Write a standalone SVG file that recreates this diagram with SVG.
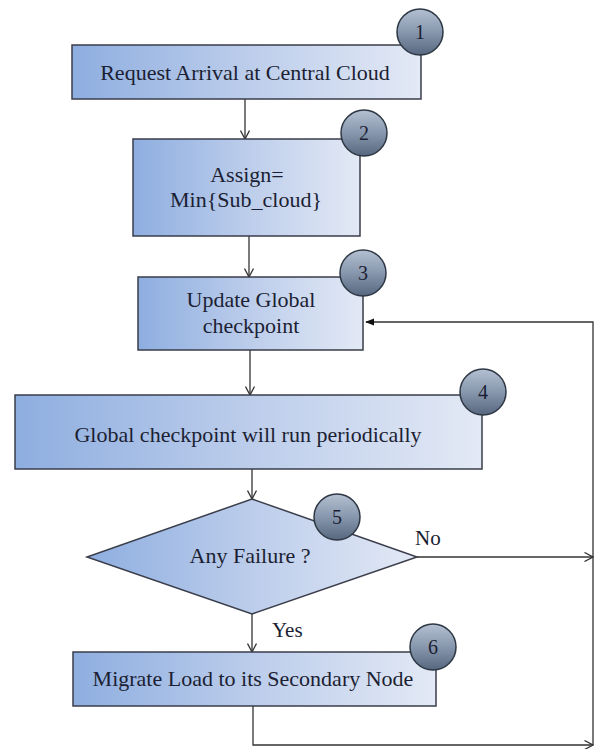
<svg xmlns="http://www.w3.org/2000/svg" width="595" height="749" viewBox="0 0 595 749">
<defs>
<linearGradient id="boxg" x1="0" y1="0" x2="1" y2="0">
<stop offset="0" stop-color="#8eaee0"/>
<stop offset="0.5" stop-color="#bccdeb"/>
<stop offset="1" stop-color="#e3e9f5"/>
</linearGradient>
<linearGradient id="circg" x1="0" y1="0" x2="0" y2="1">
<stop offset="0" stop-color="#b4c0d2"/>
<stop offset="0.5" stop-color="#8797ad"/>
<stop offset="1" stop-color="#56677f"/>
</linearGradient>
<marker id="open" viewBox="0 0 10 10" refX="9.5" refY="5" markerWidth="10" markerHeight="10" markerUnits="userSpaceOnUse" orient="auto">
<path d="M1,0.5 L9.5,5 L1,9.5" fill="none" stroke="#333" stroke-width="1.3"/>
</marker>
<marker id="filled" viewBox="0 0 10 10" refX="9" refY="5" markerWidth="9" markerHeight="9" markerUnits="userSpaceOnUse" orient="auto">
<path d="M0,1 L10,5 L0,9 Z" fill="#111"/>
</marker>
</defs>
<style>
.box{fill:url(#boxg);stroke:#3a3d4a;stroke-width:1.5}
.circ{fill:url(#circg);stroke:#2e3744;stroke-width:1.5}
.t{font-size:22px;fill:#1c1f33;text-anchor:middle}
.n{font-size:20px;fill:#1c1f33;text-anchor:middle}
.lbl{font-size:21px;fill:#1c1f33}
.c{fill:none;stroke:#333;stroke-width:1.3}
</style>
<rect width="595" height="749" fill="#ffffff"/>
<g font-family="'Liberation Serif', 'DejaVu Serif', serif">
<g id="connectors">
<line class="c" x1="245" y1="99" x2="245" y2="139" marker-end="url(#open)"/>
<line class="c" x1="249" y1="236" x2="249" y2="277" marker-end="url(#open)"/>
<line class="c" x1="250" y1="350" x2="250" y2="395" marker-end="url(#open)"/>
<line class="c" x1="252" y1="469" x2="252" y2="499" marker-end="url(#open)"/>
<line class="c" x1="252" y1="614" x2="252" y2="652" marker-end="url(#open)"/>
<line class="c" x1="417" y1="557" x2="593" y2="557" marker-end="url(#open)"/>
<polyline class="c" points="253,706 253,745 593,745" marker-end="url(#open)"/>
<polyline class="c" points="593,745 593,322 366,322" marker-end="url(#filled)"/>
<text class="lbl" x="415" y="545">No</text>
<text class="lbl" x="272" y="637">Yes</text>
</g>
<g id="node1">
<rect class="box" x="72" y="45" width="349" height="54"/>
<text class="t" x="245" y="80">Request Arrival  at  Central  Cloud</text>
<circle class="circ" cx="420" cy="32" r="23"/>
<text class="n" x="420" y="39">1</text>
</g>
<g id="node2">
<rect class="box" x="133" y="139" width="227" height="97"/>
<text class="t" x="247" y="182">Assign=</text>
<text class="t" x="246" y="207">Min{Sub_cloud}</text>
<circle class="circ" cx="364" cy="133" r="23"/>
<text class="n" x="364" y="140">2</text>
</g>
<g id="node3">
<rect class="box" x="138" y="277" width="225" height="73"/>
<text class="t" x="251" y="307">Update Global</text>
<text class="t" x="251" y="333">checkpoint</text>
<circle class="circ" cx="363" cy="273" r="23"/>
<text class="n" x="363" y="280">3</text>
</g>
<g id="node4">
<rect class="box" x="15" y="395" width="467" height="74"/>
<text class="t" x="248" y="442">Global checkpoint will  run periodically</text>
<circle class="circ" cx="483" cy="392" r="23"/>
<text class="n" x="483" y="399">4</text>
</g>
<g id="node5">
<polygon class="box" points="252,499 417,557 252,614 87,557"/>
<text class="t" x="250" y="563">Any Failure  ?</text>
<circle class="circ" cx="337" cy="517" r="23"/>
<text class="n" x="337" y="524">5</text>
</g>
<g id="node6">
<rect class="box" x="73" y="652" width="363" height="54"/>
<text class="t" x="253" y="686">Migrate  Load to its  Secondary Node</text>
<circle class="circ" cx="433" cy="647" r="23"/>
<text class="n" x="433" y="654">6</text>
</g>
</g>
</svg>
